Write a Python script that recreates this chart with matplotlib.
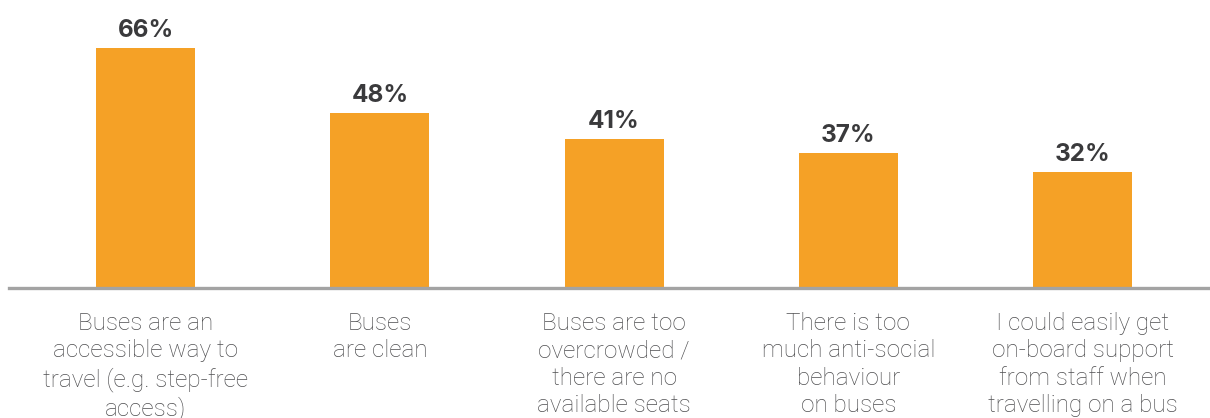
import matplotlib
matplotlib.use("Agg")
import matplotlib.pyplot as plt
from matplotlib import transforms

categories = [
    "Buses are an\naccessible way to\ntravel (e.g. step-free\naccess)",
    "Buses\nare clean",
    "Buses are too\novercrowded /\nthere are no\navailable seats",
    "There is too\nmuch anti-social\nbehaviour\non buses",
    "I could easily get\non-board support\nfrom staff when\ntravelling on a bus",
]
values = [66, 48, 41, 37, 32]
value_labels = ["66%", "48%", "41%", "37%", "32%"]

BAR_COLOR = "#F5A126"
AXIS_COLOR = "#A3A3A3"
VALUE_COLOR = "#3A3A3C"
LABEL_COLOR = "#4F4F51"

fig = plt.figure(figsize=(12.10, 4.18), dpi=100)
ax = fig.add_axes([9 / 1210, (418 - 288) / 418, 1 - 9 / 1210, 288 / 418])

x = list(range(len(values)))
ax.bar(x, values, width=0.4226, color=BAR_COLOR, zorder=2)

ax.set_xlim(-0.583, 4.544)
ax.set_ylim(0, 79.2)

for s in ["top", "right", "left"]:
    ax.spines[s].set_visible(False)
ax.spines["bottom"].set_color(AXIS_COLOR)
ax.spines["bottom"].set_linewidth(2.4)
ax.spines["bottom"].set_zorder(3)
ax.set_yticks([])
ax.set_xticks([])

for xi, v, lab in zip(x, values, value_labels):
    ax.annotate(lab, (xi, v), xytext=(0, 8), textcoords="offset points",
                ha="center", va="baseline", fontsize=17.5, fontweight="bold",
                family=["Inter", "Liberation Sans", "DejaVu Sans"], color=VALUE_COLOR)

trans = transforms.blended_transform_factory(ax.transData, ax.transAxes)
for xi, cat in zip(x, categories):
    ax.annotate(cat, (xi, 0), xycoords=trans, xytext=(0, -17),
                textcoords="offset points", ha="center", va="top",
                fontsize=17.5, fontweight="light", family=["Roboto", "DejaVu Sans"],
                color=LABEL_COLOR, linespacing=1.25, annotation_clip=False)

fig.savefig("out.png", dpi=100)
